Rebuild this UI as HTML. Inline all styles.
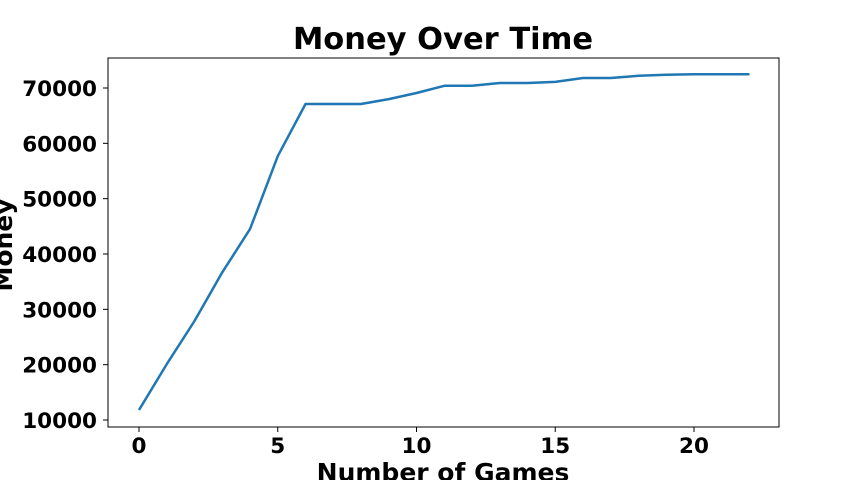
<!DOCTYPE html>
<html><head><meta charset="utf-8"><style>
body{margin:0;background:#fff;}
svg text{font-family:"DejaVu Sans","Liberation Sans",sans-serif;font-weight:bold;}
</style></head><body>
<svg id="chart" width="866" height="480" viewBox="0 0 866 480" xmlns="http://www.w3.org/2000/svg">
<rect width="866" height="480" fill="#fff"/>
<text x="443" y="49" font-size="30.5" text-anchor="middle">Money Over Time</text>
<rect x="108" y="58" width="671" height="369" fill="none" stroke="#000" stroke-width="1"/>
<g id="xticks"></g><g id="yticks"></g>
<path id="line" fill="none" stroke="#1f77b4" stroke-width="2.5" stroke-linejoin="round"/>
<text x="443" y="481" font-size="25" text-anchor="middle">Number of Games</text>
<text x="0" y="0" font-size="25" text-anchor="middle" transform="translate(12,245) rotate(-90)">Money</text>
</svg>
<script>
const games=[0,1,2,3,4,5,6,7,8,9,10,11,12,13,14,15,16,17,18,19,20,21,22];
const money=[11800,20100,27900,36700,44500,57700,67100,67100,67100,68000,69100,70400,70400,70900,70900,71100,71800,71800,72200,72400,72500,72500,72500];
const xTicks=[0,5,10,15,20];
const yTicks=[10000,20000,30000,40000,50000,60000,70000];
const NS="http://www.w3.org/2000/svg";
function xs(v){return 139+v*(694-139)/20;}
function ys(v){return 420-(v-10000)*(420-88)/60000;}
let d="";
games.forEach((g,i)=>{d+=(i?"L":"M")+xs(g).toFixed(1)+","+ys(money[i]).toFixed(1);});
document.getElementById('line').setAttribute('d',d);
const xg=document.getElementById('xticks'),yg=document.getElementById('yticks');
xTicks.forEach(t=>{
 const l=document.createElementNS(NS,'line');
 
 
 l.setAttribute('x1',xs(t));l.setAttribute('x2',xs(t));l.setAttribute('y1',427);l.setAttribute('y2',432);l.setAttribute('stroke','#000');
 xg.appendChild(l);
 const tx=document.createElementNS(NS,'text');
 
 
 tx.setAttribute('x',xs(t));tx.setAttribute('y',453);tx.setAttribute('font-size','21.5');tx.setAttribute('text-anchor','middle');
 tx.textContent=t;xg.appendChild(tx);
});
yTicks.forEach(t=>{
 const l=document.createElementNS(NS,'line');
 
 
 l.setAttribute('x1',103);l.setAttribute('x2',108);l.setAttribute('y1',ys(t));l.setAttribute('y2',ys(t));l.setAttribute('stroke','#000');
 yg.appendChild(l);
 const tx=document.createElementNS(NS,'text');
 
 
 tx.setAttribute('x',97);tx.setAttribute('y',ys(t)+8);tx.setAttribute('font-size','21.5');tx.setAttribute('text-anchor','end');
 tx.textContent=t;yg.appendChild(tx);
});
</script>
</body></html>
